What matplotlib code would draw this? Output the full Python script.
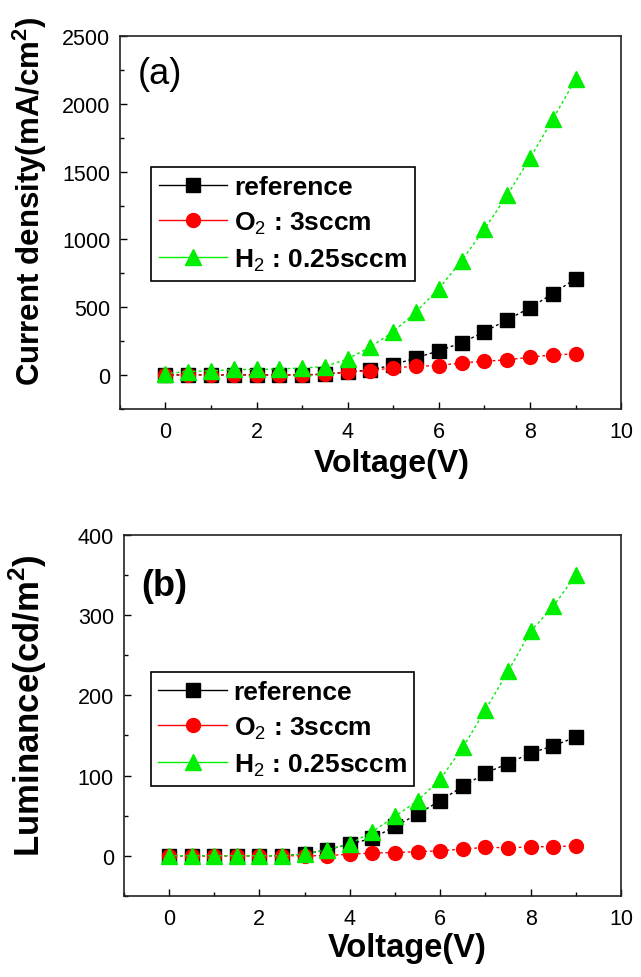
import numpy as np
import matplotlib.pyplot as plt
from matplotlib.lines import Line2D
from matplotlib.ticker import MultipleLocator

plt.rcParams['font.family'] = ['Liberation Sans', 'DejaVu Sans']
plt.rcParams['mathtext.fontset'] = 'custom'
plt.rcParams['mathtext.rm'] = 'Liberation Sans'
plt.rcParams['mathtext.bf'] = 'Liberation Sans:bold'

voltage = np.arange(0, 9.01, 0.5)

# (a) current density, mA/cm2
j_ref = [0, 0, 0, 0, 0, 0, 0, 5, 22, 37, 74, 126, 178, 237, 318, 407, 495, 600, 710]
j_o2 = [0, 0, 0, 0, 0, 0, 0, 5, 20, 32, 52, 64, 69, 89, 101, 111, 131, 148, 155]
j_h2 = [10, 25, 30, 40, 40, 45, 50, 62, 118, 207, 318, 466, 636, 843, 1076, 1326, 1600, 1886, 2181]

# (b) luminance, cd/m2
l_ref = [0, 0, 0, 0, 0, 0, 2, 7.5, 14.6, 21.7, 36.6, 52, 68.6, 86.5, 103, 115, 128, 137, 148]
l_o2 = [0, 0, 0, 0, 0, 0, 0, 0, 2, 3.3, 4, 5, 6.2, 8.3, 10.4, 10, 11, 11.5, 12]
l_h2 = [0, 0, 0, 0, 0, 0, 2, 7.5, 14.6, 30, 49, 68.6, 95.6, 135, 182, 230, 280, 311, 350]

labels = ['reference', r'O$_2$ : 3sccm', r'H$_2$ : 0.25sccm']
colors = ['black', 'red', '#00ee00']
markers = ['s', 'o', '^']
msizes = [10, 10, 11]

fig = plt.figure(figsize=(6.41, 9.78), dpi=100)
ax1 = fig.add_axes([0.187, 0.581, 0.782, 0.381])
ax2 = fig.add_axes([0.193, 0.083, 0.776, 0.369])


def draw(ax, series, ylim, ymaj, lab, lab_xy, ylabel, ylab_xy, yl_size,
         leg_anchor, xlab_xy, xl_size):
    for ys, c, m, ms in zip(series, colors, markers, msizes):
        ax.plot(voltage, ys, color=c, marker=m, markersize=ms, mec=c,
                linestyle=(0, (2, 2)), linewidth=1)
    ax.set_xlim(-1, 10)
    ax.set_ylim(*ylim)
    ax.xaxis.set_major_locator(MultipleLocator(2))
    ax.xaxis.set_minor_locator(MultipleLocator(1))
    ax.yaxis.set_major_locator(MultipleLocator(ymaj))
    ax.yaxis.set_minor_locator(MultipleLocator(ymaj / 2))
    ax.tick_params(which='both', direction='in', top=False, right=False)
    ax.tick_params(which='major', length=5, width=1, labelsize=15.5)
    ax.tick_params(which='minor', length=3, width=1)
    ax.tick_params(axis='x', which='major', pad=9)
    ax.tick_params(axis='y', which='major', pad=7)
    for s in ax.spines.values():
        s.set_linewidth(1.2)
        s.set_color('#222222')
    ax.set_ylabel(ylabel, fontsize=yl_size, fontweight='bold', va='center')
    ax.yaxis.set_label_coords(*ylab_xy)
    ax.set_xlabel('Voltage(V)', fontsize=xl_size, fontweight='bold')
    ax.xaxis.set_label_coords(*xlab_xy)
    ax.text(lab_xy[0], lab_xy[1], lab, transform=ax.transAxes, fontsize=26,
            fontweight='bold' if lab == '(b)' else 'normal',
            va='center', ha='left')
    handles = [Line2D([0], [0], color=c, marker=m, markersize=ms, lw=1)
               for c, m, ms in zip(colors, markers, msizes)]
    leg = ax.legend(handles, labels, loc='upper left', bbox_to_anchor=leg_anchor,
                    borderaxespad=0, fancybox=False, edgecolor='black',
                    framealpha=1, handlelength=2.6, handletextpad=0.25,
                    labelspacing=0.4, borderpad=0.3,
                    prop={'weight': 'bold', 'size': 19})
    leg.get_frame().set_linewidth(1.2)


draw(ax1, [j_ref, j_o2, j_h2], (-250, 2500), 500, '(a)', (0.035, 0.9),
     r'Current density(mA/cm$^\mathbf{2}$)', (-0.18, 0.56), 22.5,
     (0.062, 0.649), (0.543, -0.105), 23)
draw(ax2, [l_ref, l_o2, l_h2], (-50, 400), 100, '(b)', (0.035, 0.86),
     r'Luminance(cd/m$^\mathbf{2}$)', (-0.193, 0.53), 25,
     (0.054, 0.62), (0.57, -0.1), 23.5)

fig.savefig('out.png', dpi=100)
